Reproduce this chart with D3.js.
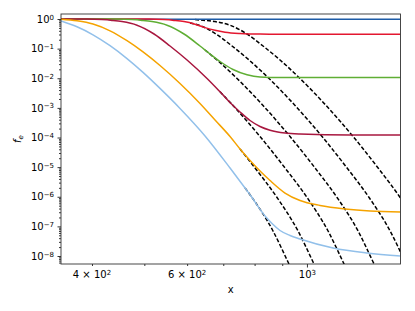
<!DOCTYPE html>
<html lang="en">
<head>
<meta charset="UTF-8" />
<title>f_e vs x</title>
<script src="https://cdn.jsdelivr.net/npm/d3@7"></script>
<style>
  body { margin: 0; background: #fff; }
  text { font-family: "DejaVu Sans", sans-serif; }
</style>
</head>
<body>
<div id="chart"></div>
<script>
// solid curves (x, f_e)
const navy = [[350.5,0.977],[600,0.977],[1000,0.977],[1490,0.977]];
const red = [[350.5,1.0],[510.1,0.9923],[543.7,0.9545],[567.4,0.8968],[592.1,0.8171],[620.6,0.6676],[647.6,0.5124],[675.8,0.4155],[705.3,0.3584],[751.8,0.3239],[818.7,0.3093],[970.9,0.3045],[1490,0.3045]];
const green = [[350.5,1.0],[445.0,0.9923],[474.4,0.9545],[495.1,0.8968],[516.6,0.8171],[550.7,0.6174],[592.1,0.3117],[633.9,0.1227],[661.6,0.06586],[690.4,0.03675],[729.7,0.01974],[774.6,0.01307],[818.7,0.01102],[891.6,0.0106],[1490,0.0106]];
const darkRed = [[350.5,1.0],[391.6,0.9923],[417.5,0.9545],[435.7,0.8968],[454.6,0.8171],[484.6,0.6174],[521.1,0.3117],[557.8,0.1227],[599.8,0.04131],[653.2,0.009807],[690.4,0.003489],[729.7,0.001203],[751.8,7.26e-4],[784.6,3.75e-4],[818.7,2.35e-4],[854.4,1.764e-4],[910.8,1.418e-4],[970.9,1.313e-4],[1201.9,1.215e-4],[1490,1.215e-4]];
const orange = [[350.5,0.9846],[375.2,0.8695],[401.7,0.6781],[432.0,0.3996],[464.4,0.1851],[497.2,0.07752],[534.5,0.02694],[582.1,0.006649],[633.9,0.001405],[675.8,3.9e-4],[720.5,1.08e-4],[751.8,4.09e-5],[784.6,1.674e-5],[818.7,7.4e-6],[854.4,3.54e-6],[910.8,1.338e-6],[970.9,7.47e-7],[1057.5,5.07e-7],[1176.5,3.86e-7],[1308.9,3.3e-7],[1490,3.06e-7]];
const lightBlue = [[350.5,0.8561],[375.2,0.5453],[401.7,0.2929],[432.0,0.1256],[464.4,0.04605],[497.2,0.01576],[534.5,0.004544],[582.1,9.6e-4],[647.6,1.132e-4],[720.5,9.34e-6],[768.0,1.974e-6],[791.3,9.43e-7],[808.3,5.27e-7],[836.4,2.24e-7],[861.7,1.251e-7],[891.6,7.26e-8],[930.4,4.92e-8],[970.9,3.75e-8],[1117.8,1.862e-8],[1292.3,1.262e-8],[1490,1.0e-8]];

// dashed equilibrium curves (visible part, after each solid leaves them)
const eqNavy = [[620.6,0.9545],[647.6,0.8968],[675.8,0.8171],[720.5,0.6174],[774.6,0.3117],[829.3,0.1227],[891.6,0.04131],[970.9,0.009807],[1084.9,0.001203],[1217.4,1.08e-4],[1354.4,9.34e-6],[1487.6,9.43e-7],[1627.0,6.98e-8]];
const eqRed = [[607.5,0.7327],[631.2,0.6174],[678.7,0.3117],[726.6,0.1227],[781.2,0.04131],[850.8,0.009807],[950.5,0.001203],[1066.6,1.08e-4],[1186.6,9.34e-6],[1303.3,9.43e-7],[1425.5,6.98e-8],[1519.7,6.27e-9]];
const eqGreen = [[647.6,0.08987],[681.6,0.04131],[742.3,0.009807],[829.3,0.001203],[930.4,1.08e-4],[1035.2,9.34e-6],[1137.0,9.43e-7],[1243.6,6.98e-8],[1325.8,6.27e-9],[1383.6,1.227e-9]];
const eqDarkRed = [[690.4,0.003489],[729.7,0.001203],[818.7,1.08e-4],[910.8,9.34e-6],[1000.5,9.43e-7],[1094.2,6.98e-8],[1166.5,6.27e-9],[1217.4,1.227e-9]];
const eqOrange = [[751.8,4.09e-5],[801.5,9.34e-6],[880.3,9.43e-7],[962.7,6.98e-8],[1026.4,6.27e-9],[1071.1,1.227e-9]];
const eqLightBlue = [[768.0,1.974e-6],[791.3,9.43e-7],[865.4,6.98e-8],[922.5,6.27e-9],[962.7,1.227e-9]];

const xMajor = [1000];
const xMinorLabeled = [[400, "4 × 10", "2"], [600, "6 × 10", "2"]];
const xMinor = [400, 500, 600, 700, 800, 900];
const yMajor = [1, 1e-1, 1e-2, 1e-3, 1e-4, 1e-5, 1e-6, 1e-7, 1e-8];
const yExp = ["0", "−1", "−2", "−3", "−4", "−5", "−6", "−7", "−8"];

const width = 415, height = 311;
const mLeft = 61, mRight = 400.5, mTop = 14, mBottom = 264;

const svg = d3.select("#chart").append("svg")
  .attr("width", width).attr("height", height);

const x = d3.scaleLog().domain([350.5, 1490]).range([mLeft, mRight]);
const y = d3.scaleLog().domain([1.475, 5.37e-9]).range([mTop, mBottom]);

svg.append("clipPath").attr("id", "plot-clip")
  .append("rect").attr("x", mLeft).attr("y", mTop)
  .attr("width", mRight - mLeft).attr("height", mBottom - mTop);

const line = d3.line()
  .x(d => x(d[0]))
  .y(d => y(d[1]))
  .curve(d3.curveMonotoneX);

const plot = svg.append("g").attr("clip-path", "url(#plot-clip)");

// dashed first, solids on top
[eqNavy, eqRed, eqGreen, eqDarkRed, eqOrange, eqLightBlue].forEach(s => {
  plot.append("path").datum(s)
    .attr("d", line)
    .attr("fill", "none")
    .attr("stroke", "#000")
    .attr("stroke-width", 1.5)
    .attr("stroke-dasharray", "4,2");
});

const solids = [
  [navy, "#1d5ba6"],
  [red, "#e3172f"],
  [green, "#5fae34"],
  [darkRed, "#a8173f"],
  [orange, "#f5a300"],
  [lightBlue, "#92c0ea"]
];
solids.forEach(([s, c]) => {
  plot.append("path").datum(s)
    .attr("d", line)
    .attr("fill", "none")
    .attr("stroke", c)
    .attr("stroke-width", 1.5);
});

// y axis
const yMinor = [];
for (let e = -9; e <= 0; e++) {
  for (let m = 2; m <= 9; m++) {
    const v = m * Math.pow(10, e);
    if (v >= 5.37e-9 && v <= 1.475) yMinor.push(v);
  }
}

const yMinorG = svg.append("g").attr("transform", `translate(${mLeft},0)`)
  .call(d3.axisLeft(y).tickValues(yMinor).tickSize(2).tickFormat(() => ""));
yMinorG.select(".domain").remove();

const yMajorG = svg.append("g").attr("transform", `translate(${mLeft},0)`)
  .call(d3.axisLeft(y).tickValues(yMajor).tickSize(3.5).tickPadding(3.5).tickFormat(() => ""));
yMajorG.select(".domain").remove();
yMajorG.selectAll("text").each(function (d, i) {
  const t = d3.select(this).attr("font-size", 10).attr("font-family", "DejaVu Sans");
  t.append("tspan").text("10");
  t.append("tspan").attr("dy", "-0.45em").attr("font-size", 7).text(yExp[i]);
});

// x axis
const xMinorG = svg.append("g").attr("transform", `translate(0,${mBottom})`)
  .call(d3.axisBottom(x).tickValues(xMinor).tickSize(2).tickPadding(5).tickFormat(() => ""));
xMinorG.select(".domain").remove();

const xMajorG = svg.append("g").attr("transform", `translate(0,${mBottom})`)
  .call(d3.axisBottom(x).tickValues(xMajor).tickSize(3.5).tickPadding(3.5).tickFormat(() => ""));
xMajorG.select(".domain").remove();
xMajorG.selectAll("text").each(function () {
  const t = d3.select(this).attr("font-size", 10).attr("font-family", "DejaVu Sans");
  t.append("tspan").text("10");
  t.append("tspan").attr("dy", "-0.45em").attr("font-size", 7).text("3");
});

xMinorLabeled.forEach(([v, base, ex]) => {
  const t = svg.append("text")
    .attr("x", x(v)).attr("y", 278)
    .attr("text-anchor", "middle")
    .attr("font-size", 10);
  t.append("tspan").text(base);
  t.append("tspan").attr("dy", "-0.45em").attr("font-size", 7).text(ex);
});

svg.selectAll(".tick line").attr("stroke", "#000").attr("stroke-width", 0.8);

// frame
svg.append("rect")
  .attr("x", mLeft).attr("y", mTop)
  .attr("width", mRight - mLeft).attr("height", mBottom - mTop)
  .attr("fill", "none")
  .attr("stroke", "#333")
  .attr("stroke-width", 0.9);

// axis labels
svg.append("text")
  .attr("x", (mLeft + mRight) / 2).attr("y", 293)
  .attr("text-anchor", "middle")
  .attr("font-size", 10)
  .text("x");

const yl = svg.append("text")
  .attr("transform", `translate(21,${(mTop + mBottom) / 2}) rotate(-90)`)
  .attr("text-anchor", "middle")
  .attr("font-size", 10);
yl.append("tspan").attr("font-style", "italic").text("f");
yl.append("tspan").attr("dy", "0.3em").attr("font-size", 7).attr("font-style", "italic").text("e");
</script>
</body>
</html>
